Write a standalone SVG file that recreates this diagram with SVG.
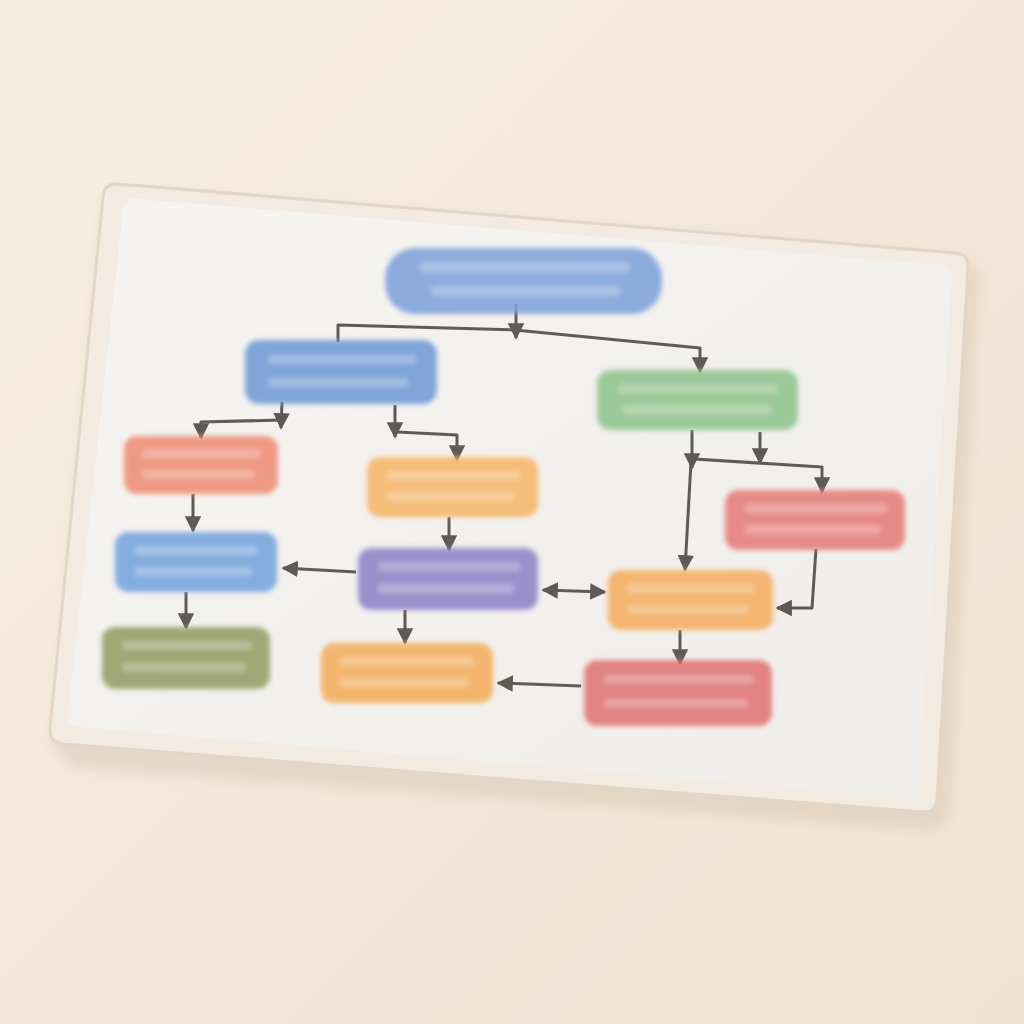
<svg xmlns="http://www.w3.org/2000/svg" width="1024" height="1024" viewBox="0 0 1024 1024">
<defs>
<style>
.node{filter:url(#soft);opacity:0.88}
.bar{fill:#ffffff;opacity:0.28}
.conn{fill:none;stroke:#5f5a55;stroke-width:3;stroke-linejoin:round}
</style>
<filter id="soft" x="-10%" y="-20%" width="120%" height="140%"><feGaussianBlur stdDeviation="2.6"/></filter>
<filter id="shadow" x="-10%" y="-10%" width="120%" height="120%"><feGaussianBlur stdDeviation="6"/></filter>
<marker id="ah" viewBox="0 0 10 10" refX="9" refY="5" markerWidth="5.5" markerHeight="5.5" orient="auto-start-reverse"><path d="M0,0 L10,5 L0,10 z" fill="#5f5a55"/></marker>
<linearGradient id="bg" x1="0" y1="0" x2="1" y2="1"><stop offset="0" stop-color="#f6ede1"/><stop offset="1" stop-color="#f1e2d0"/></linearGradient>
<linearGradient id="card" x1="0" y1="0" x2="1" y2="1"><stop offset="0" stop-color="#f5f4f1"/><stop offset="1" stop-color="#efede9"/></linearGradient>
</defs>
<rect width="1024" height="1024" fill="url(#bg)"/>
<g id="sleeve">
<path d="M70,760 L930,822 L945,808 L975,265 L962,250 L115,182 L100,195 L48,740 Z" fill="#8a6a4a" opacity="0.12" filter="url(#shadow)" transform="translate(4,8)"/>
<path d="M118,184 Q104,183 103,197 L50,728 Q49,742 63,744 L922,812 Q936,813 937,799 L968,268 Q969,254 955,253 Z" fill="#f3ebe1" stroke="#e3d6c6" stroke-width="3"/>
<path d="M136,199 Q124,198 123,210 L68,714 Q67,726 79,727 L905,797 Q917,798 918,786 L952,278 Q953,266 941,265 Z" fill="url(#card)"/>
</g>
<g id="connectors">
<path class="conn" d="M516,304 L516,338" marker-end="url(#ah)"/>
<path class="conn" d="M338,342 L338,325 L515,330 L700,348 L700,372" marker-end="url(#ah)"/>
<path class="conn" d="M282,402 L281,428" marker-end="url(#ah)"/>
<path class="conn" d="M281,420 L201,422 L201,438" marker-end="url(#ah)"/>
<path class="conn" d="M395,405 L395,437" marker-end="url(#ah)"/>
<path class="conn" d="M397,432 L457,435 L457,460" marker-end="url(#ah)"/>
<path class="conn" d="M193,494 L193,531" marker-end="url(#ah)"/>
<path class="conn" d="M449,517 L449,550" marker-end="url(#ah)"/>
<path class="conn" d="M356,572 L283,568" marker-end="url(#ah)"/>
<path class="conn" d="M186,592 L186,628" marker-end="url(#ah)"/>
<path class="conn" d="M405,610 L405,643" marker-end="url(#ah)"/>
<path class="conn" d="M543,590 L605,592" marker-start="url(#ah)" marker-end="url(#ah)"/>
<path class="conn" d="M692,430 L692,468" marker-end="url(#ah)"/>
<path class="conn" d="M691,462 L685,570" marker-end="url(#ah)"/>
<path class="conn" d="M760,432 L760,463" marker-end="url(#ah)"/>
<path class="conn" d="M694,459 L822,467 L822,492" marker-end="url(#ah)"/>
<path class="conn" d="M816,549 L812,608 L777,608" marker-end="url(#ah)"/>
<path class="conn" d="M680,630 L680,664" marker-end="url(#ah)"/>
<path class="conn" d="M581,686 L498,683" marker-end="url(#ah)"/>
</g>
<g id="n1" class="node"><rect x="385" y="248" width="277" height="66" rx="30" fill="#7fa3db"/><rect class="bar" x="420" y="262" width="210" height="10" rx="5"/><rect class="bar" x="430" y="286" width="190" height="10" rx="5"/></g>
<g id="n2" class="node"><rect x="245" y="340" width="192" height="64" rx="14" fill="#6f9bd7"/><rect class="bar" x="268" y="355" width="148" height="9" rx="4"/><rect class="bar" x="268" y="378" width="140" height="9" rx="4"/></g>
<g id="n3" class="node"><rect x="597" y="370" width="201" height="60" rx="14" fill="#8fc38c"/><rect class="bar" x="618" y="384" width="160" height="9" rx="4"/><rect class="bar" x="622" y="405" width="150" height="9" rx="4"/></g>
<g id="n4" class="node"><rect x="124" y="436" width="154" height="58" rx="13" fill="#ee8d74"/><rect class="bar" x="142" y="449" width="118" height="9" rx="4"/><rect class="bar" x="142" y="470" width="112" height="9" rx="4"/></g>
<g id="n5" class="node"><rect x="367" y="457" width="171" height="60" rx="13" fill="#f5b668"/><rect class="bar" x="386" y="471" width="134" height="9" rx="4"/><rect class="bar" x="386" y="492" width="128" height="9" rx="4"/></g>
<g id="n6" class="node"><rect x="725" y="490" width="180" height="60" rx="13" fill="#e57d7a"/><rect class="bar" x="745" y="504" width="142" height="9" rx="4"/><rect class="bar" x="745" y="525" width="136" height="9" rx="4"/></g>
<g id="n7" class="node"><rect x="115" y="532" width="162" height="60" rx="13" fill="#74a4de"/><rect class="bar" x="134" y="546" width="124" height="9" rx="4"/><rect class="bar" x="134" y="567" width="118" height="9" rx="4"/></g>
<g id="n8" class="node"><rect x="358" y="548" width="180" height="62" rx="13" fill="#8e84c8"/><rect class="bar" x="378" y="562" width="142" height="9" rx="4"/><rect class="bar" x="378" y="584" width="136" height="9" rx="4"/></g>
<g id="n9" class="node"><rect x="608" y="570" width="165" height="60" rx="13" fill="#f4ae5e"/><rect class="bar" x="627" y="584" width="128" height="9" rx="4"/><rect class="bar" x="627" y="605" width="122" height="9" rx="4"/></g>
<g id="n10" class="node"><rect x="102" y="627" width="168" height="62" rx="13" fill="#949e66"/><rect class="bar" x="122" y="641" width="130" height="9" rx="4"/><rect class="bar" x="122" y="663" width="124" height="9" rx="4"/></g>
<g id="n11" class="node"><rect x="321" y="643" width="172" height="60" rx="13" fill="#f4ae5c"/><rect class="bar" x="340" y="657" width="134" height="9" rx="4"/><rect class="bar" x="340" y="678" width="128" height="9" rx="4"/></g>
<g id="n12" class="node"><rect x="584" y="660" width="188" height="66" rx="13" fill="#e07474"/><rect class="bar" x="604" y="675" width="150" height="9" rx="4"/><rect class="bar" x="604" y="699" width="144" height="9" rx="4"/></g>
</svg>
